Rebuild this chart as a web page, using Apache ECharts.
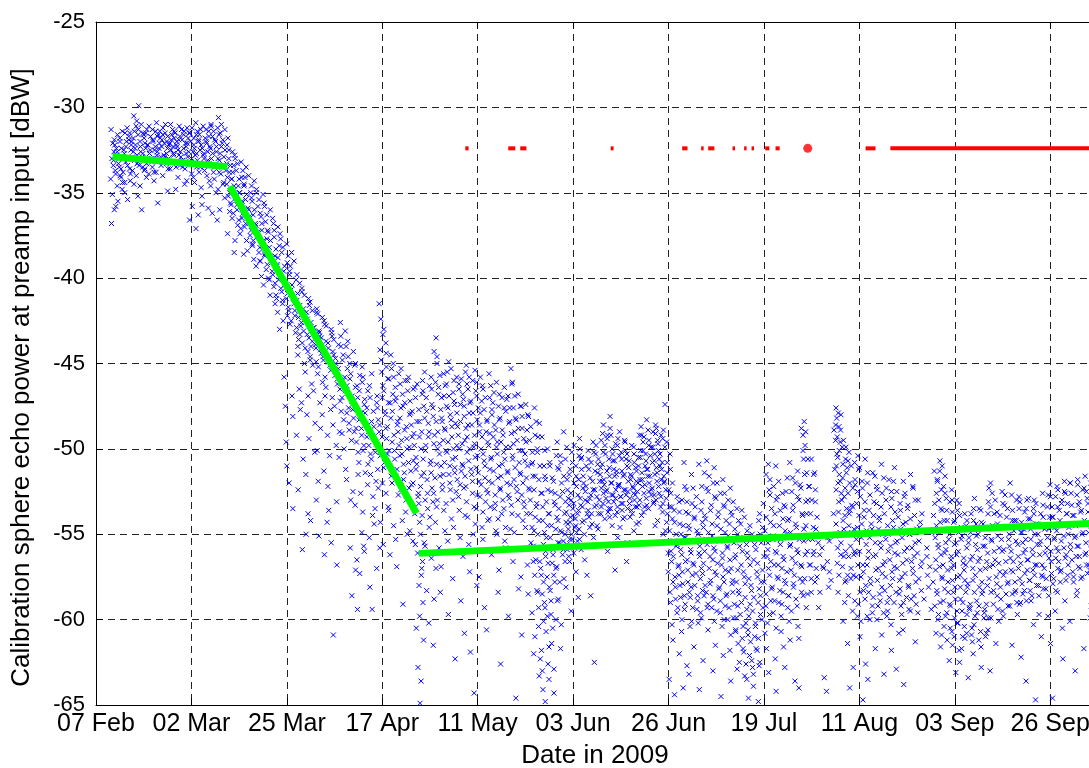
<!DOCTYPE html>
<html>
<head>
<meta charset="utf-8">
<title>Calibration sphere echo power</title>
<script src="https://cdn.jsdelivr.net/npm/echarts@6/dist/echarts.min.js"></script>
<style>
  html, body { margin: 0; padding: 0; background: #fff; }
  #main { width: 1089px; height: 768px; }
</style>
</head>
<body>
<div id="main"></div>
<script>
// x values are days counted from the first tick (07 Feb 2009)
var tickLabels = ['07 Feb', '02 Mar', '25 Mar', '17 Apr', '11 May', '03 Jun',
                  '26 Jun', '19 Jul', '11 Aug', '03 Sep', '26 Sep', '19 Oct'];
var tickStep = 23.1;
var lastDay = 241.6;

// echo power [dBW], rows are [day, v1, v2, ...]
var echoFeb = [
  [4, -31.3, -32.1, -32.6, -33.0, -33.4, -34.2, -35.1, -36.0, -36.8],
  [5, -31.6, -32.2, -32.8, -33.3, -33.9, -34.6, -35.5],
  [6, -31.8, -32.4, -32.9, -33.5, -34.1, -34.8],
  [7, -31.5, -32.0, -32.7, -33.2, -33.8, -34.4],
  [8, -31.2, -31.9, -32.5, -33.0, -33.6, -34.3, -35.4],
  [9, -30.5, -31.4, -32.0, -32.6, -33.1, -33.7, -34.5],
  [10, -29.9, -30.8, -31.6, -32.2, -32.8, -33.4, -34.0, -35.2],
  [11, -31.0, -31.5, -32.3, -32.9, -33.5, -34.6, -36.0],
  [12, -31.3, -31.8, -32.4, -33.0, -33.6, -34.1],
  [13, -31.1, -31.7, -32.2, -32.7, -33.2, -33.9],
  [14, -31.4, -31.9, -32.5, -33.0, -33.5, -34.3],
  [15, -30.9, -31.6, -32.1, -32.6, -33.1, -33.8, -35.6],
  [16, -31.2, -31.8, -32.3, -32.8, -33.4, -34.0],
  [17, -31.5, -32.0, -32.4, -32.9, -33.3, -34.9],
  [18, -31.0, -31.6, -32.1, -32.5, -33.0, -33.6],
  [19, -31.3, -31.8, -32.2, -32.7, -33.2, -34.8],
  [20, -31.1, -31.7, -32.3, -32.8, -33.4, -34.1],
  [21, -31.4, -31.9, -32.4, -32.9, -33.5, -34.5],
  [4.5, -31.9, -32.4, -33.1, -33.7, -35.8],
  [5.5, -32.0, -32.6, -33.0, -34.0],
  [6.5, -31.4, -32.5, -33.6, -34.4, -35.0],
  [7.5, -31.7, -32.3, -33.4],
  [8.5, -31.5, -32.2, -32.9, -33.9],
  [9.5, -31.1, -31.8, -32.4, -33.3],
  [10.5, -31.3, -32.0, -32.6, -33.2],
  [11.5, -31.6, -32.1, -32.7, -33.7],
  [12.5, -31.5, -32.2, -32.7, -33.3],
  [13.5, -31.3, -32.0, -32.5, -33.0],
  [14.5, -31.7, -32.3, -32.8, -33.8],
  [15.5, -31.4, -31.9, -32.4, -32.9],
  [16.5, -31.0, -31.6, -32.1, -33.1],
  [17.5, -31.7, -32.2, -32.7, -33.6],
  [18.5, -31.4, -31.9, -32.3, -32.8],
  [19.5, -31.5, -32.0, -32.5, -33.5],
  [20.5, -31.3, -31.9, -32.6, -33.1],
  [21.5, -31.6, -32.1, -32.7, -33.3]
];

var echoMar = [
  [22, -31.2, -31.8, -32.3, -32.9, -33.6, -34.3],
  [23, -31.5, -32.0, -32.6, -33.2, -33.9, -35.8, -36.6],
  [24, -30.9, -31.6, -32.2, -32.8, -33.5, -34.4, -37.1],
  [25, -31.3, -31.9, -32.5, -33.1, -33.8, -34.7, -36.3],
  [26, -31.1, -31.8, -32.4, -33.0, -33.7, -35.7],
  [27, -31.4, -32.0, -32.6, -33.3, -34.0, -35.9],
  [28, -31.0, -31.7, -32.3, -33.0, -33.8, -34.6, -36.2],
  [29, -31.2, -31.9, -32.6, -33.4, -34.2, -35.0, -36.6],
  [30, -30.6, -31.5, -32.3, -33.1, -33.9, -34.8, -36.0],
  [31, -31.3, -32.1, -32.9, -33.7, -34.5, -35.3],
  [32, -32.2, -33.0, -33.8, -34.5, -35.2, -36.1, -37.4],
  [33, -32.6, -33.4, -34.2, -34.9, -35.6, -36.5, -38.5],
  [34, -32.8, -33.7, -34.6, -35.3, -36.0, -36.9, -37.8],
  [35, -33.2, -34.1, -35.0, -35.8, -36.5, -37.4],
  [36, -33.5, -34.5, -35.4, -36.2, -37.0, -37.8, -38.6],
  [37, -34.0, -35.0, -35.9, -36.7, -37.5, -38.4],
  [38, -34.3, -35.3, -36.3, -37.2, -38.0, -38.9],
  [39, -34.8, -35.8, -36.8, -37.6, -38.5, -39.3],
  [40, -35.1, -36.2, -37.2, -38.1, -39.0, -39.9],
  [41, -35.6, -36.7, -37.7, -38.6, -39.5, -40.4],
  [42, -36.0, -37.2, -38.2, -39.1, -40.0, -41.0],
  [43, -36.5, -37.6, -38.7, -39.6, -40.5, -41.5],
  [44, -37.0, -38.1, -39.2, -40.1, -41.0, -42.0, -43.0],
  [45, -37.4, -38.5, -39.6, -40.6, -41.5, -42.5],
  [46, -38.0, -39.1, -40.2, -41.2, -42.2, -47.5, -51.0],
  [47, -38.5, -39.6, -40.7, -41.7, -42.7, -46.9, -52.0],
  [48, -39.0, -40.1, -41.2, -42.2, -43.2, -48.1],
  [49, -40.3, -41.3, -42.3, -43.3, -44.5, -46.5, -49.2, -52.4],
  [50, -40.8, -41.8, -42.8, -43.8, -45.0, -47.3, -50.6],
  [51, -41.2, -42.2, -43.3, -44.3, -45.5, -48.0, -53.8, -55.0],
  [52, -41.6, -42.6, -43.7, -44.8, -46.2, -49.4, -54.2],
  [22.5, -31.5, -32.1, -32.6, -33.2],
  [23.5, -31.2, -31.8, -32.4, -33.0, -34.1],
  [24.5, -31.4, -32.0, -32.7, -33.3],
  [25.5, -31.6, -32.2, -32.8, -33.5, -35.2],
  [26.5, -31.3, -32.1, -32.7, -33.4],
  [27.5, -31.1, -31.7, -32.4, -33.1, -34.3],
  [28.5, -31.4, -32.0, -32.7, -33.5],
  [29.5, -31.6, -32.3, -33.0, -33.8],
  [30.5, -31.0, -31.9, -32.7, -33.5, -34.4],
  [31.5, -31.8, -32.5, -33.3, -34.1],
  [32.5, -32.5, -33.4, -34.2, -35.0, -35.7],
  [33.5, -33.0, -33.8, -34.6, -35.3, -36.2],
  [34.5, -33.3, -34.2, -35.0, -35.7, -36.6],
  [35.5, -33.7, -34.6, -35.5, -36.3, -37.1],
  [36.5, -34.1, -35.1, -36.0, -36.8],
  [37.5, -34.6, -35.5, -36.4, -37.2, -38.1],
  [38.5, -35.0, -36.0, -36.9, -37.8],
  [39.5, -35.4, -36.4, -37.3, -38.2, -39.0],
  [40.5, -35.8, -36.8, -37.8, -38.7],
  [41.5, -36.3, -37.3, -38.3, -39.2, -40.1],
  [42.5, -36.8, -37.8, -38.8, -39.8],
  [43.5, -37.2, -38.3, -39.3, -40.3, -41.2],
  [44.5, -37.7, -38.8, -39.9, -40.8],
  [45.5, -38.2, -39.3, -40.4, -41.3, -45.8],
  [46.5, -38.7, -39.8, -40.9, -41.9, -49.6],
  [47.5, -39.3, -40.4, -41.5, -42.5, -53.5],
  [48.5, -39.8, -40.9, -41.9, -42.9, -44.0],
  [49.5, -40.6, -41.6, -42.6, -43.6, -47.7, -55.9],
  [50.5, -41.0, -42.0, -43.1, -44.1, -51.5],
  [51.5, -41.4, -42.4, -43.5, -44.6, -46.9],
  [52.5, -41.9, -42.9, -44.0, -45.1, -50.2]
];

var echoApr = [
  [53, -41.8, -42.9, -43.9, -44.9, -46.6, -48.5, -53.0],
  [54, -42.1, -43.2, -44.2, -45.2, -47.3, -50.1, -55.1],
  [55, -42.5, -43.5, -44.6, -45.8, -48.0, -51.3, -56.2],
  [56, -42.8, -43.8, -44.9, -46.4, -49.2, -53.6],
  [57, -43.2, -44.3, -45.4, -47.0, -50.4, -55.5, -60.9],
  [58, -43.6, -44.7, -45.9, -47.5, -49.8, -56.8],
  [59, -42.6, -44.0, -45.3, -46.5, -47.8, -50.5],
  [60, -43.1, -44.5, -45.8, -47.0, -48.3, -51.2],
  [61, -43.7, -45.0, -46.3, -47.6, -48.9, -51.8],
  [62, -44.3, -45.6, -46.9, -48.2, -49.5, -52.5, -55.8, -58.6],
  [63, -45.0, -46.3, -47.6, -48.8, -50.2, -53.3, -56.5, -59.4],
  [64, -45.2, -46.6, -47.9, -49.2, -50.8, -52.6, -54.9, -57.3],
  [65, -45.8, -47.1, -48.5, -49.8, -51.4, -53.7, -56.0],
  [66, -46.3, -47.6, -49.0, -50.3, -52.1, -55.2, -58.1],
  [67, -45.6, -47.8, -49.3, -50.6, -52.8, -54.4, -59.4],
  [68, -46.9, -48.3, -49.7, -51.2, -53.5, -57.0],
  [69, -41.5, -42.4, -43.3, -44.2, -45.5, -47.0, -48.6, -50.2, -52.0, -54.3],
  [70, -43.8, -45.2, -46.6, -48.0, -49.4, -50.8, -52.6, -55.6],
  [71, -44.5, -45.9, -47.3, -48.7, -50.1, -51.6, -53.4, -56.2],
  [72, -45.0, -46.4, -47.8, -49.2, -50.6, -52.0, -54.5],
  [73, -45.6, -47.0, -48.4, -49.8, -51.2, -52.7, -55.3],
  [74, -45.3, -46.8, -48.2, -49.5, -50.9, -52.4, -54.2, -59.1],
  [75, -46.0, -47.3, -48.7, -50.0, -51.4, -53.0, -55.0],
  [76, -45.8, -47.2, -48.6, -49.9, -51.3, -52.9, -54.8],
  [77, -46.4, -47.8, -49.1, -50.5, -52.0, -53.8, -55.6],
  [78, -46.2, -47.7, -49.3, -50.9, -52.6, -54.3, -56.1, -58.0, -60.5, -62.8, -64.9],
  [79, -46.0, -47.5, -49.0, -50.6, -52.2, -53.9, -55.5, -57.4, -59.0, -61.2],
  [80, -45.5, -47.0, -48.5, -50.1, -51.8, -53.5, -55.7, -58.3],
  [81, -45.8, -47.4, -49.0, -50.7, -52.3, -54.0, -56.4, -60.2],
  [82, -43.5, -44.3, -46.1, -47.6, -49.2, -50.9, -52.6, -54.3, -57.0, -61.5],
  [53.5, -42.0, -43.1, -44.1, -45.6, -51.9],
  [54.5, -42.3, -43.4, -44.4, -46.1, -48.8],
  [55.5, -42.7, -43.7, -44.8, -46.9, -54.3],
  [56.5, -43.0, -44.1, -45.1, -47.7, -52.2],
  [57.5, -43.4, -44.5, -45.7, -48.6],
  [58.5, -43.9, -45.0, -46.2, -49.0, -53.1],
  [59.5, -43.4, -44.8, -46.0, -47.2, -49.1],
  [60.5, -44.0, -45.3, -46.6, -47.9, -50.0],
  [61.5, -44.6, -45.9, -47.2, -48.5, -53.0],
  [62.5, -45.1, -46.4, -47.7, -49.0, -57.1],
  [63.5, -45.7, -47.0, -48.3, -49.6, -51.5],
  [64.5, -46.1, -47.4, -48.8, -50.1, -55.7],
  [65.5, -46.6, -47.9, -49.3, -50.9],
  [66.5, -47.0, -48.4, -49.8, -51.5, -53.9],
  [67.5, -47.3, -48.7, -50.2, -51.9],
  [68.5, -47.6, -49.0, -50.4, -52.3, -55.8],
  [69.5, -43.0, -44.8, -46.3, -47.8, -49.3, -51.1],
  [70.5, -44.4, -45.9, -47.3, -48.8, -50.3, -53.6],
  [71.5, -45.3, -46.8, -48.2, -49.6, -51.0],
  [72.5, -45.8, -47.2, -48.6, -50.1, -51.6, -56.9],
  [73.5, -46.2, -47.6, -49.0, -50.4, -51.9],
  [74.5, -46.0, -47.5, -48.9, -50.3, -51.8, -53.7],
  [75.5, -46.6, -48.0, -49.4, -50.8, -52.3],
  [76.5, -46.5, -47.9, -49.3, -50.7, -52.1, -55.4],
  [77.5, -47.0, -48.4, -49.8, -51.2, -52.8],
  [78.5, -46.8, -48.4, -50.0, -51.6, -53.2, -55.0, -57.0, -59.8, -63.6],
  [79.5, -46.6, -48.2, -49.8, -51.4, -53.0, -56.6],
  [80.5, -46.3, -47.8, -49.3, -50.9, -52.6, -54.6],
  [81.5, -46.5, -48.1, -49.7, -51.4, -53.1, -58.8],
  [82.5, -44.6, -46.8, -48.4, -50.0, -51.7, -53.4]
];

var echoMay = [
  [83, -45.0, -46.4, -47.7, -49.0, -50.3, -51.6, -53.0, -55.8, -58.4],
  [84, -45.6, -46.9, -48.2, -49.5, -50.8, -52.1, -53.6, -56.9],
  [85, -44.9, -46.2, -47.6, -48.9, -50.2, -51.5, -53.2, -55.4, -59.7],
  [86, -45.3, -46.7, -48.0, -49.3, -50.6, -52.0, -54.1, -57.6],
  [87, -45.8, -47.2, -48.5, -49.8, -51.1, -52.5, -54.6, -62.3],
  [88, -46.2, -47.4, -48.7, -50.0, -51.3, -52.8, -55.2, -58.9],
  [89, -45.5, -46.8, -48.1, -49.5, -50.9, -52.3, -53.9, -56.3, -60.8],
  [90, -45.1, -46.5, -47.9, -49.3, -50.7, -52.2, -54.0, -57.2],
  [91, -46.0, -47.3, -48.6, -49.9, -51.2, -52.6, -55.0, -61.9],
  [92, -45.4, -46.9, -48.3, -49.7, -51.1, -52.7, -54.4, -58.0, -64.3],
  [93, -45.8, -47.2, -48.6, -50.0, -51.4, -52.8, -54.6, -57.5],
  [94, -46.3, -47.7, -49.0, -50.3, -51.7, -53.1, -55.3, -59.3],
  [95, -45.6, -47.0, -48.4, -49.8, -51.2, -52.6, -54.1, -60.6],
  [96, -46.7, -48.0, -49.3, -50.6, -52.0, -53.5, -56.2],
  [97, -46.1, -47.5, -48.9, -50.3, -51.7, -53.2, -55.0, -58.4],
  [98, -47.0, -48.3, -49.6, -50.9, -52.3, -53.8, -57.1, -62.6],
  [99, -46.4, -47.8, -49.2, -50.6, -52.0, -53.5, -55.8],
  [100, -45.3, -46.9, -48.4, -49.9, -51.4, -52.9, -54.7, -59.8],
  [101, -46.2, -47.6, -49.0, -50.4, -51.8, -53.3, -56.6],
  [102, -46.8, -48.2, -49.5, -50.8, -52.2, -53.9, -58.2, -64.6],
  [103, -47.5, -48.8, -50.1, -51.4, -52.7, -54.2, -57.5],
  [104, -47.4, -48.9, -50.3, -51.7, -53.1, -54.6, -56.8],
  [105, -48.0, -49.5, -50.9, -52.3, -53.8, -55.5, -58.5],
  [106, -47.6, -49.2, -50.8, -52.4, -54.0, -55.7, -57.4, -59.6, -62.0],
  [107, -48.5, -50.2, -51.8, -53.4, -55.0, -56.6, -58.3, -60.4, -63.3],
  [108, -49.3, -51.0, -52.6, -54.2, -55.6, -57.0, -58.5, -60.1, -61.8, -64.1],
  [109, -50.0, -51.6, -53.1, -54.5, -56.0, -57.5, -59.0, -60.7, -62.6, -64.8],
  [110, -51.0, -52.5, -53.8, -55.2, -56.7, -58.1, -59.7, -61.4, -63.5],
  [111, -50.4, -51.9, -53.3, -54.7, -56.2, -57.8, -60.0, -62.9],
  [112, -49.6, -51.2, -52.8, -54.2, -55.5, -56.9, -58.8, -61.7],
  [113, -49.0, -50.8, -52.5, -53.8, -54.9, -55.9, -57.6, -60.3],
  [83.5, -45.7, -47.0, -48.4, -49.7, -51.0, -52.4],
  [84.5, -46.3, -47.5, -48.8, -50.1, -51.5, -54.8],
  [85.5, -45.5, -46.9, -48.3, -49.6, -51.0, -52.4],
  [86.5, -46.0, -47.4, -48.7, -50.0, -51.4, -53.0],
  [87.5, -46.5, -47.9, -49.2, -50.5, -51.8, -53.6],
  [88.5, -45.9, -47.1, -48.4, -49.7, -51.0, -52.1],
  [89.5, -46.2, -47.5, -48.8, -50.2, -51.6, -53.1],
  [90.5, -45.8, -47.2, -48.6, -50.0, -51.5, -55.6],
  [91.5, -46.6, -47.9, -49.2, -50.5, -51.9, -53.4],
  [92.5, -46.1, -47.6, -49.0, -50.4, -51.9, -53.5],
  [93.5, -46.5, -47.9, -49.3, -50.7, -52.1, -53.7],
  [94.5, -47.0, -48.3, -49.6, -51.0, -52.4, -54.2],
  [95.5, -46.3, -47.7, -49.1, -50.5, -51.9, -53.4],
  [96.5, -47.3, -48.6, -49.9, -51.3, -52.7, -54.8],
  [97.5, -46.8, -48.2, -49.6, -51.0, -52.4, -54.1],
  [98.5, -47.6, -48.9, -50.2, -51.6, -53.0, -55.4],
  [99.5, -47.1, -48.5, -49.9, -51.3, -52.7, -54.6],
  [100.5, -46.1, -47.6, -49.1, -50.6, -52.1, -53.8],
  [101.5, -46.9, -48.3, -49.7, -51.1, -52.5, -54.9],
  [102.5, -47.5, -48.8, -50.1, -51.5, -53.0, -55.9],
  [103.5, -48.1, -49.4, -50.7, -52.0, -53.4, -60.9],
  [104.5, -48.1, -49.6, -51.0, -52.4, -53.8],
  [105.5, -48.7, -50.2, -51.6, -53.0, -54.6, -56.6],
  [106.5, -48.4, -50.0, -51.6, -53.2, -54.8, -56.5, -58.4, -61.0],
  [107.5, -49.3, -51.0, -52.6, -54.2, -55.8, -57.4, -59.3, -62.3],
  [108.5, -50.1, -51.8, -53.4, -54.9, -56.3, -57.8, -59.3, -63.0],
  [109.5, -50.8, -52.4, -53.8, -55.2, -56.7, -58.3, -59.8, -61.6],
  [110.5, -51.7, -53.1, -54.5, -55.9, -57.4, -58.9, -60.5, -64.3],
  [111.5, -51.1, -52.6, -54.0, -55.5, -57.0, -58.9],
  [112.5, -50.4, -52.0, -53.5, -54.8, -56.2, -57.8],
  [113.5, -49.9, -51.6, -53.1, -54.3, -55.4, -56.6]
];

var echoJun = [
  [114, -50.6, -51.8, -52.9, -53.7, -54.4, -55.0, -55.6, -56.3, -58.1],
  [115, -50.2, -51.5, -52.6, -53.5, -54.3, -55.0, -55.7, -56.6, -59.5],
  [116, -49.8, -51.0, -52.2, -53.2, -54.1, -54.9, -55.8, -57.2],
  [117, -49.4, -50.6, -51.8, -52.9, -53.8, -54.7, -55.9, -58.7],
  [118, -50.5, -51.6, -52.5, -53.4, -54.2, -56.5],
  [119, -50.1, -51.2, -52.2, -53.1, -54.0, -57.4],
  [120, -49.6, -50.8, -51.9, -52.9, -53.8, -55.2, -58.6],
  [121, -50.3, -51.4, -52.4, -53.3, -54.5, -62.5],
  [122, -49.5, -50.6, -51.5, -52.3, -53.0, -53.8, -54.7],
  [123, -48.6, -49.8, -50.9, -51.8, -52.5, -53.2, -54.1],
  [124, -48.1, -49.4, -50.6, -51.6, -52.4, -53.1, -54.0, -56.0],
  [125, -49.2, -50.3, -51.2, -52.0, -52.7, -53.5, -54.5],
  [126, -49.8, -50.7, -51.5, -52.2, -52.9, -53.7, -55.2, -57.1],
  [127, -49.0, -50.2, -51.3, -52.1, -52.8, -53.6, -54.6],
  [128, -49.6, -50.6, -51.5, -52.4, -53.2, -54.0, -56.6],
  [129, -50.3, -51.1, -51.8, -52.5, -53.2, -54.0, -55.5],
  [130, -49.9, -50.8, -51.6, -52.3, -53.0, -53.8, -54.8],
  [131, -50.5, -51.3, -52.0, -52.7, -53.4, -54.3],
  [132, -48.7, -49.6, -50.5, -51.4, -52.2, -53.0, -53.9],
  [133, -48.3, -49.3, -50.3, -51.2, -52.1, -52.9, -53.7],
  [134, -49.5, -50.4, -51.2, -52.0, -52.7, -53.5],
  [135, -49.1, -49.9, -50.7, -51.5, -52.3, -53.1, -54.5],
  [136, -48.8, -49.7, -50.6, -51.4, -52.2, -53.0, -54.2],
  [137, -49.4, -50.3, -51.2, -52.0, -52.8, -53.7, -55.0],
  [138, -47.4, -49.6, -50.8, -51.9, -52.9, -53.8, -54.8],
  [139, -51.2, -53.4, -54.8, -56.0, -57.2, -58.4, -60.3, -63.5],
  [140, -52.0, -53.6, -55.0, -56.3, -57.5, -58.8, -61.2, -64.4],
  [141, -53.1, -54.4, -55.6, -56.8, -58.0, -59.3, -62.0],
  [142, -50.8, -53.0, -54.5, -55.9, -57.2, -58.6, -60.7, -64.0],
  [143, -52.4, -53.8, -55.2, -56.5, -57.8, -59.1, -62.7],
  [114.5, -51.2, -52.4, -53.3, -54.0, -54.7, -55.3, -55.9],
  [115.5, -50.8, -52.0, -53.0, -53.9, -54.6, -55.3, -56.1],
  [116.5, -50.4, -51.6, -52.7, -53.6, -54.5, -55.4],
  [117.5, -50.0, -51.2, -52.3, -53.3, -54.3, -55.3],
  [118.5, -51.0, -52.0, -53.0, -53.8, -55.0],
  [119.5, -50.6, -51.7, -52.7, -53.6, -54.6],
  [120.5, -50.2, -51.3, -52.4, -53.4, -54.4],
  [121.5, -49.8, -50.9, -51.9, -52.8, -53.8],
  [122.5, -49.1, -50.2, -51.1, -51.9, -52.6, -53.4],
  [123.5, -49.2, -50.3, -51.3, -52.1, -52.9, -53.7],
  [124.5, -48.8, -50.0, -51.1, -52.0, -52.7, -53.5],
  [125.5, -49.7, -50.7, -51.6, -52.4, -53.1, -53.9],
  [126.5, -49.4, -50.4, -51.3, -52.1, -52.8, -53.4],
  [127.5, -49.5, -50.6, -51.6, -52.4, -53.2, -54.1],
  [128.5, -50.1, -51.0, -51.9, -52.7, -53.5],
  [129.5, -49.8, -50.7, -51.5, -52.2, -52.9, -53.6],
  [130.5, -50.3, -51.1, -51.9, -52.6, -53.4, -54.4],
  [131.5, -49.2, -50.1, -51.0, -51.8, -52.5, -53.3],
  [132.5, -49.2, -50.1, -51.0, -51.8, -52.6, -53.4],
  [133.5, -48.9, -49.8, -50.7, -51.6, -52.5, -53.3],
  [134.5, -49.0, -49.9, -50.8, -51.6, -52.4, -53.2],
  [135.5, -48.6, -49.5, -50.3, -51.1, -51.9, -52.7],
  [136.5, -49.2, -50.1, -51.0, -51.8, -52.6, -53.4],
  [137.5, -48.9, -49.9, -50.8, -51.6, -52.4, -53.2],
  [138.5, -50.3, -51.4, -52.4, -53.4, -54.3, -56.1],
  [139.5, -52.6, -54.1, -55.4, -56.6, -57.8, -59.0],
  [140.5, -52.8, -54.3, -55.7, -56.9, -58.1, -59.6],
  [141.5, -53.7, -55.0, -56.2, -57.4, -58.7, -60.0],
  [142.5, -52.2, -53.7, -55.2, -56.6, -57.9, -59.4],
  [143.5, -53.1, -54.5, -55.9, -57.1, -58.4, -60.4]
];

var echoJul = [
  [144, -51.5, -53.2, -54.7, -56.1, -57.4, -58.7, -60.1, -63.2],
  [145, -52.8, -54.1, -55.4, -56.7, -58.0, -59.4, -61.6],
  [146, -50.9, -53.6, -55.0, -56.3, -57.6, -58.9, -64.1],
  [147, -51.4, -53.1, -54.6, -56.0, -57.3, -58.6, -59.9, -62.4],
  [148, -50.7, -52.5, -54.1, -55.6, -57.0, -58.4, -60.6],
  [149, -52.0, -53.6, -55.1, -56.5, -57.9, -59.3, -63.0],
  [150, -51.1, -52.9, -54.5, -56.0, -57.4, -58.8, -61.5],
  [151, -52.6, -54.0, -55.4, -56.8, -58.2, -59.6, -64.5],
  [152, -51.8, -53.4, -54.9, -56.4, -57.8, -59.2, -62.1],
  [153, -53.0, -54.4, -55.8, -57.2, -58.6, -60.0, -61.8],
  [154, -52.3, -53.9, -55.5, -57.0, -58.4, -59.9, -63.6],
  [155, -53.5, -55.0, -56.4, -57.8, -59.2, -60.6, -62.9],
  [156, -53.6, -55.2, -56.8, -58.3, -59.7, -61.1, -62.5],
  [157, -54.0, -55.6, -57.2, -58.7, -60.2, -61.7, -63.3],
  [158, -54.5, -56.1, -57.6, -59.1, -60.6, -62.1, -63.5, -64.6],
  [159, -55.0, -56.5, -58.0, -59.5, -61.0, -62.4, -63.9],
  [160, -54.2, -55.9, -57.5, -59.0, -60.4, -61.8, -64.8],
  [161, -53.8, -55.5, -57.1, -58.6, -60.0, -62.7],
  [162, -51.5, -53.2, -54.8, -56.3, -57.8, -59.2, -61.7],
  [163, -50.9, -52.7, -54.3, -55.9, -57.4, -58.9, -63.1],
  [164, -52.2, -53.8, -55.3, -56.8, -58.2, -59.6, -62.3],
  [165, -51.0, -52.8, -54.5, -56.1, -57.6, -59.0, -64.2],
  [166, -52.6, -54.1, -55.6, -57.0, -58.4, -60.7],
  [167, -51.7, -53.4, -55.0, -56.5, -57.9, -59.3, -62.8],
  [168, -50.8, -52.5, -54.1, -55.6, -57.1, -58.6, -61.2],
  [169, -52.0, -53.6, -55.2, -56.7, -58.1, -63.6],
  [170, -51.3, -53.0, -54.6, -56.1, -57.6, -59.2, -64.0],
  [171, -48.4, -48.8, -49.2, -50.6, -52.3, -53.9, -55.4, -56.9, -58.6],
  [172, -49.8, -51.4, -53.0, -54.5, -56.0, -57.6, -59.3],
  [173, -50.6, -52.2, -53.8, -55.3, -56.8, -58.4],
  [174, -51.5, -53.1, -54.7, -56.2, -57.8],
  [144.5, -52.3, -54.0, -55.4, -56.8, -58.1, -59.3],
  [145.5, -53.4, -54.8, -56.1, -57.3, -58.6, -60.2],
  [146.5, -52.2, -54.3, -55.7, -57.0, -58.3, -59.6],
  [147.5, -52.3, -53.9, -55.3, -56.7, -58.0, -59.3],
  [148.5, -51.6, -53.3, -54.9, -56.3, -57.7, -59.1],
  [149.5, -52.8, -54.4, -55.8, -57.2, -58.6, -60.1],
  [150.5, -52.0, -53.7, -55.3, -56.7, -58.1, -59.5],
  [151.5, -53.3, -54.7, -56.1, -57.5, -58.9, -60.4],
  [152.5, -52.6, -54.2, -55.7, -57.1, -58.5, -60.0],
  [153.5, -53.7, -55.1, -56.5, -57.9, -59.3, -60.9],
  [154.5, -53.1, -54.7, -56.2, -57.7, -59.1, -60.7],
  [155.5, -54.2, -55.7, -57.1, -58.5, -59.9, -61.4],
  [156.5, -54.4, -56.0, -57.5, -59.0, -60.4, -61.9],
  [157.5, -54.8, -56.4, -57.9, -59.4, -60.9, -62.6],
  [158.5, -55.3, -56.8, -58.3, -59.8, -61.3, -62.8],
  [159.5, -55.6, -57.2, -58.7, -60.2, -61.7, -63.2],
  [160.5, -55.0, -56.7, -58.2, -59.7, -61.1, -62.5],
  [161.5, -54.6, -56.3, -57.8, -59.3, -60.8],
  [162.5, -52.4, -54.0, -55.5, -57.0, -58.5, -60.2],
  [163.5, -51.8, -53.5, -55.1, -56.6, -58.1, -59.7],
  [164.5, -53.0, -54.5, -56.0, -57.5, -58.9, -60.5],
  [165.5, -51.9, -53.6, -55.3, -56.8, -58.3, -59.8],
  [166.5, -53.3, -54.8, -56.3, -57.7, -59.1, -61.6],
  [167.5, -52.5, -54.2, -55.7, -57.2, -58.6, -60.1],
  [168.5, -51.7, -53.3, -54.9, -56.4, -57.9, -59.5],
  [169.5, -52.8, -54.4, -55.9, -57.4, -58.8, -60.4],
  [170.5, -52.1, -53.8, -55.3, -56.8, -58.4, -61.1],
  [171.5, -49.0, -50.1, -51.5, -53.1, -54.7, -56.2, -57.8],
  [172.5, -50.6, -52.2, -53.8, -55.3, -56.8, -58.5],
  [173.5, -51.4, -53.0, -54.6, -56.0, -57.6],
  [174.5, -52.4, -54.0, -55.5, -57.0]
];

var echoAug = [
  [175, -56.2, -57.5, -59.3],
  [176, -55.8, -57.0, -63.4],
  [177, -56.6, -58.1, -64.2],
  [178, -55.4, -57.7],
  [179, -47.6, -48.2, -48.9, -49.5, -50.3, -51.2, -52.4, -53.8, -55.1, -56.7],
  [180, -48.0, -48.7, -49.6, -50.5, -51.5, -52.6, -53.7, -54.9, -56.2, -58.4],
  [181, -49.5, -50.6, -51.7, -52.8, -53.9, -55.0, -56.3, -57.8, -60.1],
  [182, -50.2, -51.4, -52.6, -53.8, -55.0, -56.3, -57.7, -61.4, -64.0],
  [183, -51.0, -52.3, -53.6, -54.9, -56.2, -57.6, -59.5, -62.8],
  [184, -50.4, -51.8, -53.2, -54.6, -56.0, -57.5, -59.8],
  [185, -51.2, -52.8, -54.4, -56.0, -57.5, -59.1, -61.0],
  [186, -50.6, -52.3, -54.0, -55.6, -57.2, -58.8, -62.6, -64.7],
  [187, -52.0, -53.6, -55.2, -56.8, -58.4, -60.0, -63.5],
  [188, -51.4, -53.1, -54.7, -56.3, -57.9, -59.6],
  [189, -51.6, -53.2, -54.7, -56.2, -57.7, -59.2, -61.7],
  [190, -50.9, -52.6, -54.2, -55.8, -57.3, -58.9, -60.9],
  [191, -52.3, -53.8, -55.3, -56.8, -58.3, -59.8, -63.2],
  [192, -51.8, -53.4, -55.0, -56.5, -58.0, -59.5],
  [193, -51.1, -52.9, -54.6, -56.1, -57.6, -59.0, -61.8],
  [194, -52.5, -54.0, -55.5, -57.0, -58.5, -62.9],
  [195, -51.9, -53.6, -55.2, -56.7, -58.2, -59.7, -60.6],
  [196, -52.8, -54.3, -55.8, -57.3, -58.7, -63.8],
  [197, -51.5, -53.3, -55.0, -56.6, -58.1, -59.5],
  [198, -52.2, -53.9, -55.5, -57.0, -58.6, -61.3],
  [199, -53.0, -54.6, -56.1, -57.6, -59.1],
  [200, -54.3, -56.6, -58.8],
  [201, -55.8, -57.4],
  [202, -54.9, -56.9, -59.4],
  [203, -51.3, -52.6, -53.9, -55.2, -56.5, -57.8, -59.2, -60.8],
  [204, -50.7, -51.8, -53.0, -54.3, -55.6, -56.9, -58.3, -59.7, -61.6],
  [205, -51.0, -52.2, -53.5, -54.8, -56.1, -57.5, -58.9, -60.4],
  [175.5, -56.9, -58.4],
  [177.5, -55.2, -57.2],
  [179.5, -47.9, -48.6, -49.3, -50.1, -51.0, -52.0, -53.1, -54.4, -55.8, -57.4],
  [180.5, -48.9, -49.9, -50.9, -51.9, -53.0, -54.2, -55.5, -56.9],
  [181.5, -49.9, -51.1, -52.3, -53.5, -54.7, -56.0, -57.4, -59.0],
  [182.5, -50.7, -52.0, -53.3, -54.5, -55.7, -57.0, -58.6],
  [183.5, -50.8, -52.1, -53.4, -54.7, -56.1, -57.4, -58.9],
  [184.5, -51.1, -52.5, -53.9, -55.3, -56.8, -58.4],
  [185.5, -51.9, -53.6, -55.2, -56.8, -58.3, -60.1],
  [186.5, -51.4, -53.1, -54.8, -56.4, -58.0, -59.8],
  [187.5, -52.7, -54.4, -56.0, -57.6, -59.2],
  [188.5, -52.2, -53.9, -55.5, -57.1, -58.7],
  [189.5, -52.4, -54.0, -55.5, -57.0, -58.5, -60.0],
  [190.5, -51.7, -53.4, -55.0, -56.6, -58.1, -59.6],
  [191.5, -53.0, -54.5, -56.0, -57.5, -59.0],
  [192.5, -52.5, -54.2, -55.7, -57.2, -58.7, -60.3],
  [193.5, -51.9, -53.7, -55.4, -56.9, -58.4],
  [194.5, -53.2, -54.7, -56.2, -57.7, -59.2, -60.8],
  [195.5, -52.6, -54.4, -56.0, -57.5, -59.0],
  [196.5, -53.5, -55.0, -56.5, -58.0, -59.4],
  [197.5, -52.3, -54.1, -55.8, -57.3, -58.8],
  [198.5, -53.0, -54.7, -56.3, -57.8, -59.6],
  [199.5, -53.8, -55.4, -56.9, -58.3],
  [201.5, -56.3, -58.1],
  [203.5, -51.9, -53.2, -54.5, -55.8, -57.1, -58.5, -60.0],
  [204.5, -51.3, -52.4, -53.6, -54.9, -56.2, -57.6, -59.0, -60.9],
  [205.5, -51.6, -52.9, -54.2, -55.5, -56.8, -58.2, -59.6]
];

var echoSep = [
  [206, -52.6, -53.6, -54.7, -55.9, -57.1, -58.4, -59.8, -61.2],
  [207, -52.4, -53.7, -55.0, -56.3, -57.7, -59.2, -60.7, -62.4],
  [208, -53.0, -54.2, -55.5, -56.8, -58.1, -59.5, -61.0, -63.1],
  [209, -53.2, -54.6, -56.0, -57.4, -58.8, -60.2, -62.5],
  [210, -53.8, -55.1, -56.4, -57.7, -59.0, -60.4, -61.7],
  [211, -54.2, -55.5, -56.8, -58.1, -59.4, -60.8, -63.4],
  [212, -53.5, -54.9, -56.3, -57.7, -59.1, -60.5, -62.0],
  [213, -52.9, -54.4, -55.9, -57.4, -58.9, -60.3],
  [214, -53.6, -55.0, -56.4, -57.8, -59.2, -60.7, -62.8],
  [215, -54.4, -55.7, -57.0, -58.3, -59.6, -61.0],
  [216, -53.1, -54.6, -56.1, -57.6, -59.1, -60.6, -63.0],
  [217, -52.0, -52.6, -53.8, -55.3, -56.8, -58.3, -59.9],
  [218, -53.7, -55.1, -56.5, -57.9, -59.4, -61.4],
  [219, -52.5, -53.9, -55.3, -56.7, -58.1, -59.5],
  [220, -53.3, -54.6, -55.9, -57.2, -58.5, -59.8],
  [221, -52.0, -53.5, -55.0, -56.4, -57.8, -59.2],
  [222, -53.6, -54.8, -56.0, -57.2, -58.4, -61.5],
  [223, -52.8, -54.2, -55.6, -57.0, -58.3, -59.7],
  [224, -53.1, -54.3, -55.5, -56.7, -57.9, -59.1, -62.2],
  [225, -53.5, -54.7, -55.9, -57.1, -58.3, -63.6],
  [226, -52.9, -54.1, -55.3, -56.5, -57.7, -58.9],
  [227, -53.8, -55.0, -56.2, -57.4, -58.6, -60.3, -64.7],
  [228, -53.2, -54.4, -55.6, -56.8, -58.0, -59.7],
  [229, -52.6, -54.0, -55.4, -56.8, -58.2, -61.0],
  [230, -53.4, -54.6, -55.8, -57.0, -58.2, -59.8],
  [231, -52.1, -53.4, -54.7, -56.0, -57.3, -58.6, -61.4],
  [232, -52.8, -54.0, -55.2, -56.4, -57.6, -59.5, -64.6],
  [233, -52.4, -53.6, -54.8, -56.0, -57.2, -58.4],
  [234, -51.9, -53.2, -54.5, -55.8, -57.1, -62.3],
  [235, -52.6, -53.8, -55.0, -56.2, -57.4, -58.9],
  [206.5, -53.1, -54.2, -55.3, -56.5, -57.8, -59.1, -60.5],
  [207.5, -53.0, -54.3, -55.6, -57.0, -58.4, -59.9, -61.5],
  [208.5, -53.6, -54.9, -56.2, -57.5, -58.8, -60.2, -61.8],
  [209.5, -53.9, -55.3, -56.7, -58.1, -59.5, -61.0],
  [210.5, -54.5, -55.8, -57.1, -58.4, -59.7, -61.1],
  [211.5, -53.8, -55.2, -56.5, -57.9, -59.3, -60.9],
  [212.5, -54.2, -55.6, -57.0, -58.4, -59.8, -61.3],
  [213.5, -53.5, -55.1, -56.6, -58.1, -59.6, -61.2],
  [214.5, -54.3, -55.7, -57.1, -58.5, -59.9, -61.6],
  [215.5, -53.8, -55.2, -56.6, -58.0, -59.4, -60.8],
  [216.5, -52.3, -53.4, -55.4, -56.9, -58.4, -59.9],
  [217.5, -53.0, -54.5, -56.0, -57.5, -59.1],
  [218.5, -54.4, -55.8, -57.2, -58.6, -60.1],
  [219.5, -53.2, -54.6, -56.0, -57.4, -58.8],
  [220.5, -52.7, -54.0, -55.3, -56.6, -57.9, -59.2],
  [221.5, -52.7, -54.2, -55.7, -57.1, -58.5],
  [222.5, -53.0, -54.2, -55.4, -56.6, -57.8, -59.0],
  [223.5, -53.5, -54.9, -56.3, -57.6, -59.0],
  [224.5, -53.7, -54.9, -56.1, -57.3, -58.5],
  [225.5, -53.0, -54.1, -55.3, -56.5, -57.7, -58.9],
  [226.5, -53.5, -54.7, -55.9, -57.1, -58.3],
  [227.5, -53.0, -54.4, -55.6, -56.8, -58.0],
  [228.5, -53.8, -55.0, -56.2, -57.4, -58.6],
  [229.5, -53.3, -54.7, -56.1, -57.5],
  [230.5, -52.7, -54.0, -55.2, -56.4, -57.6],
  [231.5, -52.8, -54.0, -55.3, -56.6, -57.9],
  [232.5, -52.2, -53.4, -54.6, -55.8, -57.0, -58.3],
  [233.5, -53.0, -54.2, -55.4, -56.6, -57.8, -60.5],
  [234.5, -52.5, -53.8, -55.1, -56.4, -57.7],
  [235.5, -52.0, -53.2, -54.4, -55.6, -56.8]
];

var echoOct = [
  [236, -52.0, -53.3, -54.6, -55.9, -57.2, -60.1],
  [237, -52.7, -53.9, -55.1, -56.3, -57.5, -63.0],
  [238, -51.8, -53.1, -54.4, -55.7, -57.0, -58.3],
  [239, -52.3, -53.6, -54.9, -56.2, -57.5, -61.7],
  [240, -52.5, -53.7, -54.9, -56.1, -57.3],
  [241, -51.9, -53.2, -54.5, -55.8, -57.1, -59.2],
  [236.5, -52.6, -53.9, -55.2, -56.5, -57.8],
  [237.5, -52.1, -53.3, -54.5, -55.7, -56.9, -58.6],
  [238.5, -52.4, -53.7, -55.0, -56.3, -57.6],
  [239.5, -51.6, -52.9, -54.2, -55.5, -56.8],
  [240.5, -52.0, -53.2, -54.4, -55.6, -56.8, -59.9],
  [241.5, -52.6, -53.8, -55.0, -56.2]
];

// fitted trend pieces (green)
var trendPieces = [
  [[4.0, -32.89], [31.8, -33.47]],
  [[32.4, -34.64], [77.6, -53.77]],
  [[78.2, -56.12], [241.6, -54.36]]
];

// flagged periods (red), [start day, end day]
var flagRuns = [
  [89.4, 90.2], [99.8, 101.5], [102.7, 104.2], [124.6, 125.3],
  [141.9, 143.2], [146.5, 147.1], [148.2, 149.7], [154.1, 154.7],
  [156.9, 157.5], [158.7, 159.3], [162.0, 163.0], [164.5, 165.5],
  [186.3, 188.7], [192.3, 241.6]
];
var flagLevel = -32.4;
var flagDot = [172.3, -32.4];

// spread the samples of one row across the width of a day
var daySlots = [0.15, 0.55, 0.85, 0.35, 0.7, 0.05, 0.45, 0.95, 0.25, 0.65, 0.8];

var echoPoints = [];
var rowNo = 0;
[echoFeb, echoMar, echoApr, echoMay, echoJun, echoJul, echoAug, echoSep, echoOct].forEach(function (month) {
  month.forEach(function (row) {
    for (var i = 1; i < row.length; i++) {
      var slot = daySlots[(i - 1 + rowNo * 4) % daySlots.length];
      echoPoints.push([row[0] + slot - 0.5, row[i]]);
    }
    rowNo += 1;
  });
});

var font = 'Liberation Sans, Arial, Helvetica, sans-serif';
var dash = { color: '#222', width: 1, type: [7, 5] };

var series = [{
  type: 'scatter',
  name: 'echo',
  data: echoPoints,
  symbol: 'path://M0,0L10,10M10,0L0,10',
  symbolSize: 5,
  itemStyle: { color: '#0000ff', borderColor: '#0000ff', borderWidth: 1, opacity: 1 },
  silent: true,
  z: 2
}];

trendPieces.forEach(function (p) {
  series.push({
    type: 'line',
    data: p,
    symbol: 'none',
    lineStyle: { color: '#00ff00', width: 7 },
    silent: true,
    z: 3
  });
});

flagRuns.forEach(function (r) {
  series.push({
    type: 'line',
    data: [[r[0], flagLevel], [r[1], flagLevel]],
    symbol: 'none',
    lineStyle: { color: '#ff0000', width: 4, cap: 'butt' },
    silent: true,
    z: 4
  });
});

series.push({
  type: 'scatter',
  data: [flagDot],
  symbol: 'circle',
  symbolSize: 9,
  itemStyle: { color: '#ff0000' },
  silent: true,
  z: 4
});

var myChart = echarts.init(document.getElementById('main'));
myChart.setOption({
  animation: false,
  backgroundColor: '#fff',
  grid: { left: 96, top: 22, width: 998, height: 683, outerBoundsMode: 'none' },
  xAxis: [{
    type: 'value',
    min: 0,
    max: lastDay,
    interval: tickStep,
    position: 'bottom',
    axisLine: { lineStyle: { color: '#000', width: 1 } },
    axisTick: { inside: true, length: 7, lineStyle: { color: '#000' } },
    axisLabel: {
      color: '#000', fontSize: 25, fontFamily: font, margin: 7,
      showMaxLabel: false,
      formatter: function (v) {
        var k = Math.round(v / tickStep);
        if (Math.abs(v - k * tickStep) > 0.5) return '';
        return tickLabels[k] || '';
      }
    },
    splitLine: { show: true, lineStyle: dash },
    name: 'Date in 2009',
    nameLocation: 'middle',
    nameGap: 38,
    nameTextStyle: { color: '#000', fontSize: 26, fontFamily: font }
  }, {
    type: 'value',
    min: 0,
    max: lastDay,
    interval: tickStep,
    position: 'top',
    axisLine: { lineStyle: { color: '#000', width: 1 } },
    axisTick: { inside: true, length: 7, lineStyle: { color: '#000' } },
    axisLabel: { show: false },
    splitLine: { show: false }
  }],
  yAxis: {
    type: 'value',
    min: -65,
    max: -25,
    interval: 5,
    axisLine: { show: true, lineStyle: { color: '#000', width: 1 } },
    axisTick: { show: true, inside: true, length: 7, lineStyle: { color: '#000' } },
    axisLabel: { color: '#000', fontSize: 22, fontFamily: font, margin: 11 },
    splitLine: { show: true, lineStyle: dash },
    name: 'Calibration sphere echo power at preamp input [dBW]',
    nameLocation: 'middle',
    nameGap: 61,
    nameRotate: 90,
    nameTextStyle: { color: '#000', fontSize: 26, fontFamily: font, padding: [0, 28, 0, 0] }
  },
  series: series
});
</script>
</body>
</html>
